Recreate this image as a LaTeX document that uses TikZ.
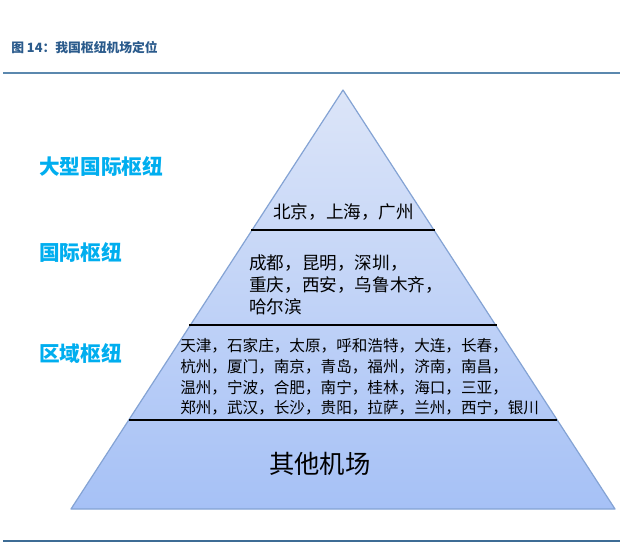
\documentclass[tikz,border=0pt]{standalone}
\usepackage{fontspec}
\newfontfamily\cjk{Noto Sans CJK SC}
\usetikzlibrary{shadings}
\definecolor{titleblue}{HTML}{2B5B8C}
\definecolor{rulecol}{HTML}{5B88AE}
\definecolor{rulecolb}{HTML}{3D6C95}
\definecolor{labcyan}{HTML}{00AEEF}
\definecolor{pyrtop}{HTML}{DCE5F8}
\definecolor{pyrbot}{HTML}{A6C1F6}
\definecolor{pyredge}{HTML}{84A3D4}
\tikzset{
  tier/.style={draw=black, line width=1.6pt},
  lab/.style={font=\cjk\bfseries\fontsize{15.5}{17}\selectfont, text=labcyan, anchor=west, inner sep=0pt},
  cityA/.style={font=\cjk\fontsize{13.2}{15}\selectfont, anchor=west, inner sep=0pt},
  cityB/.style={font=\cjk\fontsize{11.7}{14}\selectfont, anchor=west, inner sep=0pt},
}
\begin{document}
\begin{tikzpicture}[x=0.75pt,y=-0.75pt]
\useasboundingbox (0,0) rectangle (620,550);
\fill[white] (0,0) rectangle (620,550);
% title
\node[font=\cjk\bfseries\fontsize{9.6}{11}\selectfont, text=titleblue, anchor=west, inner sep=0pt] (title) at (11,48) {图 14：我国枢纽机场定位};
\draw[rulecol, line width=1.8pt] (3,73) -- (620,73);
\draw[rulecolb, line width=1.8pt] (3,541) -- (620,541);
% pyramid
\coordinate (apex) at (343,90);
\coordinate (bl) at (71,509);
\coordinate (br) at (615,509);
\shade[top color=pyrtop, bottom color=pyrbot] (apex) -- (br) -- (bl) -- cycle;
\draw[pyredge, line width=0.9pt, line join=round] (apex) -- (br) -- (bl) -- cycle;
% tier lines (edge to edge)
\coordinate (l1a) at (251,230); \coordinate (l1b) at (435,230);
\coordinate (l2a) at (189,325); \coordinate (l2b) at (497,325);
\coordinate (l3a) at (129,420); \coordinate (l3b) at (557,420);
\draw[tier] (l1a) -- (l1b);
\draw[tier] (l2a) -- (l2b);
\draw[tier] (l3a) -- (l3b);
% left labels
\node[lab] (big) at (39,167) {大型国际枢纽};
\node[lab] (intl) at (39,253) {国际枢纽};
\node[lab] (reg) at (39,354) {区域枢纽};
% tier texts
\node[cityA] (t1) at (273,212) {北京，上海，广州};
\node[cityA] (t2a) at (249,263) {成都，昆明，深圳，};
\node[cityA] (t2b) at (249,285) {重庆，西安，乌鲁木齐，};
\node[cityA] (t2c) at (249,307) {哈尔滨};
\node[cityB] (t3a) at (180,346) {天津，石家庄，太原，呼和浩特，大连，长春，};
\node[cityB] (t3b) at (180,367) {杭州，厦门，南京，青岛，福州，济南，南昌，};
\node[cityB] (t3c) at (180,388) {温州，宁波，合肥，南宁，桂林，海口，三亚，};
\node[cityB] (t3d) at (180,408) {郑州，武汉，长沙，贵阳，拉萨，兰州，西宁，银川};
\node[font=\cjk\fontsize{19}{22}\selectfont, anchor=west, inner sep=0pt] (other) at (269,464) {其他机场};
\end{tikzpicture}
\end{document}
